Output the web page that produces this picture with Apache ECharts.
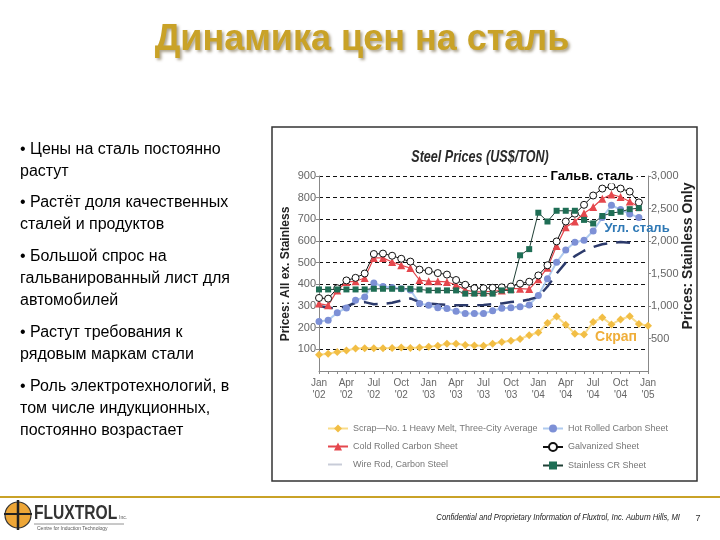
<!DOCTYPE html>
<html><head><meta charset="utf-8">
<script src="https://cdn.jsdelivr.net/npm/echarts@6/dist/echarts.min.js"></script>
<style>html,body{margin:0;padding:0;background:#fff}#c{width:720px;height:540px}</style>
</head><body><div id="c"></div>
<script>
const categories = ["Jan '02","Feb '02","Mar '02","Apr '02","May '02","Jun '02","Jul '02","Aug '02","Sep '02","Oct '02","Nov '02","Dec '02",
"Jan '03","Feb '03","Mar '03","Apr '03","May '03","Jun '03","Jul '03","Aug '03","Sep '03","Oct '03","Nov '03","Dec '03",
"Jan '04","Feb '04","Mar '04","Apr '04","May '04","Jun '04","Jul '04","Aug '04","Sep '04","Oct '04","Nov '04","Dec '04","Jan '05"];
const scrap = [75,80,88,95,104,105,105,105,106,108,106,108,112,116,126,126,120,118,116,126,134,140,148,165,178,221,252,214,172,169,226,247,215,238,253,217,209];
const hotRolled = [229,234,269,291,326,342,406,390,385,380,374,311,303,292,288,276,265,265,265,278,290,292,296,305,349,426,502,558,594,603,646,708,765,745,725,708,null];
const coldRolled = [311,303,372,411,414,429,522,522,503,488,475,420,414,414,411,398,374,365,365,368,372,380,380,378,423,476,577,664,690,728,757,795,815,803,782,757,null];
const galvanized = [337,334,382,418,430,450,540,542,532,518,505,468,462,452,445,420,398,382,382,384,386,390,403,412,441,488,598,690,726,767,810,842,852,842,828,778,null];
const wireRod = [300,292,290,298,315,318,308,310,315,325,335,318,312,308,305,303,303,303,305,308,312,318,322,330,342,390,450,500,530,555,572,585,592,595,592,585,null];
const stainless = [1255,1255,1255,1255,1255,1255,1265,1265,1265,1265,1265,1255,1240,1240,1240,1240,1190,1190,1190,1190,1240,1240,1780,1875,2435,2300,2465,2465,2465,2325,2270,2385,2430,2450,2490,2505,null];
const seriesNames = ['Scrap—No. 1 Heavy Melt, Three-City Average','Hot Rolled Carbon Sheet','Cold Rolled Carbon Sheet','Galvanized Sheet','Wire Rod, Carbon Steel','Stainless CR Sheet'];
const bullets = [
  '• Цены на сталь постоянно\nрастут',
  '• Растёт доля качественных\nсталей и продуктов',
  '• Большой спрос на\nгальванированный лист для\nавтомобилей',
  '• Растут требования к\nрядовым маркам стали',
  '• Роль электротехнологий, в\nтом числе индукционных,\nпостоянно возрастает'
];
const bulletTops = [139, 192, 246, 322, 376];

const SANS = "'Liberation Sans',Arial,sans-serif";

const chart = echarts.init(document.getElementById('c'), null, {renderer:'canvas'});

const graphics = [];
graphics.push({type:'rect', shape:{x:272,y:127,width:425,height:354}, style:{fill:'none', stroke:'#333', lineWidth:1.5}, z:-1});
graphics.push({type:'line', shape:{x1:0,y1:497,x2:720,y2:497}, style:{stroke:'#C9A227', lineWidth:2}});
graphics.push({type:'text', x:362, y:40, style:{text:'Динамика цен на сталь', font:"bold 36px "+SANS, fill:'#C9A227', align:'center', verticalAlign:'middle', textShadowColor:'rgba(70,50,0,0.45)', textShadowBlur:3, textShadowOffsetX:2, textShadowOffsetY:2}});
bullets.forEach((b,i)=>{
  graphics.push({type:'text', x:20, y:bulletTops[i], style:{text:b, font:"16px "+SANS, fill:'#000', lineHeight:22, align:'left', verticalAlign:'top'}});
});
graphics.push({type:'text', x:480, y:157, scaleX:0.74, style:{text:'Steel Prices (US$/TON)', font:"italic bold 17px "+SANS, fill:'#2a2a2a', align:'center', verticalAlign:'middle'}});
graphics.push({type:'text', x:286, y:274, rotation:Math.PI/2, style:{text:'Prices: All ex. Stainless', font:"bold 12px "+SANS, fill:'#222', align:'center', verticalAlign:'middle'}});
graphics.push({type:'text', x:688, y:256, rotation:Math.PI/2, style:{text:'Prices: Stainless Only', font:"bold 14px "+SANS, fill:'#222', align:'center', verticalAlign:'middle'}});
graphics.push({type:'text', x:592, y:176, style:{text:'Гальв. сталь', font:"bold 13px "+SANS, fill:'#000', align:'center', verticalAlign:'middle', backgroundColor:'#fff', padding:[1,3]}, z:100});
graphics.push({type:'text', x:637, y:228, style:{text:'Угл. сталь', font:"bold 13px "+SANS, fill:'#2E78B5', align:'center', verticalAlign:'middle'}, z:100});
graphics.push({type:'text', x:616, y:337, style:{text:'Скрап', font:"bold 14px "+SANS, fill:'#EFAE3A', align:'center', verticalAlign:'middle'}, z:100});
// logo
graphics.push({type:'circle', shape:{cx:18,cy:515,r:13}, style:{fill:'#EDA637', stroke:'#333', lineWidth:1.2}});
graphics.push({type:'line', shape:{x1:18,y1:500,x2:18,y2:530}, style:{stroke:'#222', lineWidth:2.5}});
graphics.push({type:'line', shape:{x1:4,y1:514,x2:32,y2:514}, style:{stroke:'#222', lineWidth:2}});
graphics.push({type:'text', x:34, y:513, scaleX:0.78, style:{text:'FLUXTROL', font:"bold 20px "+SANS, fill:'#333', align:'left', verticalAlign:'middle'}});
graphics.push({type:'text', x:119, y:518, style:{text:'Inc.', font:"5px "+SANS, fill:'#555', align:'left', verticalAlign:'middle'}});
graphics.push({type:'line', shape:{x1:34,y1:524,x2:124,y2:524}, style:{stroke:'#777', lineWidth:0.8}});
graphics.push({type:'text', x:37, y:529, style:{text:'Centre for Induction Technology', font:"5px "+SANS, fill:'#555', align:'left', verticalAlign:'middle'}});
graphics.push({type:'text', x:680, y:517, scaleX:0.85, style:{text:'Confidential and Proprietary Information of Fluxtrol, Inc. Auburn Hills, MI', font:"italic 9px "+SANS, fill:'#222', align:'right', verticalAlign:'middle'}});
graphics.push({type:'text', x:698, y:519, style:{text:'7', font:"9px "+SANS, fill:'#333', align:'center', verticalAlign:'middle'}});

const legendText = {color:'#777', fontSize:9, fontFamily:SANS};

const option = {
  animation:false,
  backgroundColor:'#fff',
  grid:{left:319, top:176, width:329, height:195, containLabel:false},
  legend:[
    {data:[seriesNames[0],seriesNames[2],{name:seriesNames[4], itemStyle:{opacity:0}, lineStyle:{color:'#C8CCD8', width:2}}], orient:'vertical', left:322, top:419, itemGap:9, itemWidth:20, itemHeight:10, textStyle:legendText},
    {data:[seriesNames[1],seriesNames[3],seriesNames[5]], orient:'vertical', left:537, top:419, itemGap:9, itemWidth:20, itemHeight:10, textStyle:legendText}
  ],
  xAxis:{type:'category', data:categories, boundaryGap:false,
    axisLine:{lineStyle:{color:'#888'}},
    axisTick:{interval:0, length:3, lineStyle:{color:'#888'}},
    axisLabel:{interval:2, formatter:v=>v.replace(' ','\n'), color:'#666', fontSize:10, lineHeight:12, margin:6, fontFamily:SANS},
    splitLine:{show:false}},
  yAxis:[
    {type:'value', min:0, max:900, interval:100, position:'left',
      axisLine:{show:true, lineStyle:{color:'#888'}}, axisTick:{show:true, length:3, lineStyle:{color:'#888'}},
      axisLabel:{showMinLabel:false, color:'#666', fontSize:11, margin:3, fontFamily:SANS},
      splitLine:{show:true, showMinLine:false, lineStyle:{color:'#111', type:[4,3], width:1}}},
    {type:'value', min:0, max:3000, interval:500, position:'right',
      axisLine:{show:true, lineStyle:{color:'#888'}}, axisTick:{show:true, length:3, lineStyle:{color:'#888'}},
      axisLabel:{showMinLabel:false, color:'#666', fontSize:11, margin:3, fontFamily:SANS, formatter:v=>v.toLocaleString('en-US')},
      splitLine:{show:false}}
  ],
  series:[
    {name:seriesNames[0], type:'line', data:scrap, showAllSymbol:true, symbol:'diamond', symbolSize:8, itemStyle:{color:'#F2BE45'}, lineStyle:{color:'#F9DC8A', width:2}},
    {name:seriesNames[1], type:'line', data:hotRolled, showAllSymbol:true, symbol:'circle', symbolSize:7, itemStyle:{color:'#7D90D6'}, lineStyle:{color:'#AFCBEF', width:2}},
    {name:seriesNames[2], type:'line', data:coldRolled, showAllSymbol:true, symbol:'triangle', symbolSize:8, itemStyle:{color:'#E5474D'}, lineStyle:{color:'#E5474D', width:1.2}},
    {name:seriesNames[3], type:'line', data:galvanized, showAllSymbol:true, symbol:'circle', symbolSize:7, itemStyle:{color:'#fff', borderColor:'#111', borderWidth:1}, lineStyle:{color:'#111', width:1}},
    {name:seriesNames[4], type:'line', data:wireRod, symbol:'none', itemStyle:{color:'#2C3A6B'}, lineStyle:{color:'#2C3A6B', width:2.5, type:[14,9]}},
    {name:seriesNames[5], type:'line', yAxisIndex:1, data:stainless, showAllSymbol:true, symbol:'rect', symbolSize:6, itemStyle:{color:'#1F6E55'}, lineStyle:{color:'#1F3F35', width:1}}
  ],
  graphic:graphics
};
chart.setOption(option);
</script></body></html>
